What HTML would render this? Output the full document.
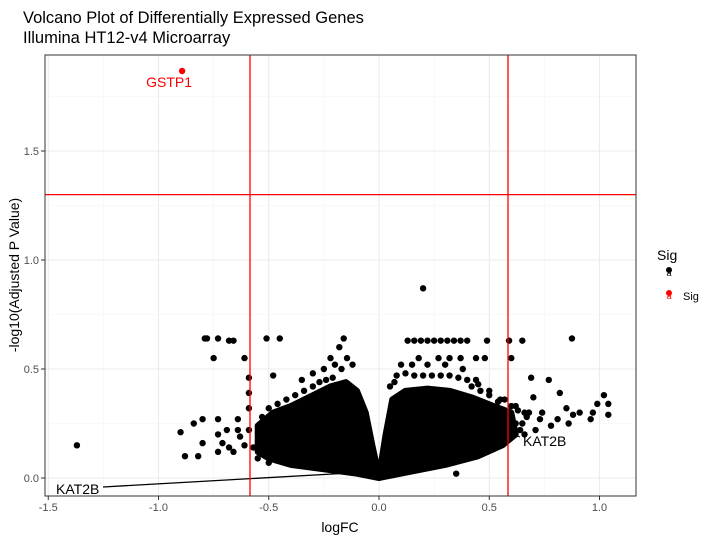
<!DOCTYPE html>
<html><head><meta charset="utf-8"><style>
body{margin:0;background:#fff;font-family:"Liberation Sans",sans-serif;}
svg text{font-family:"Liberation Sans",sans-serif;}
</style></head><body>
<svg id="chart" width="716" height="542">
<text x="23" y="23" font-size="16.5" fill="#000">Volcano Plot of Differentially Expressed Genes</text>
<text x="23" y="43" font-size="16.5" fill="#000">Illumina HT12-v4 Microarray</text>
<g id="grid"></g><g id="marks"></g><g id="axes"></g>
</svg>
<script>
const xTicks=[-1.5,-1.0,-0.5,0.0,0.5,1.0];
const xTickLabels=["-1.5","-1.0","-0.5","0.0","0.5","1.0"];
const yTicks=[0,0.5,1.0,1.5];
const yTickLabels=["0.0","0.5","1.0","1.5"];
const fcCutoff=0.585, pCutoff=1.30;
// envelope of the dense non-significant point cloud (logFC, -log10 adj P)
const blobFC=[-0.55,-0.55,-0.48,-0.40,-0.30,-0.22,-0.15,-0.10,-0.06,-0.03,0,0.03,0.06,0.12,0.22,0.32,0.42,0.52,0.60,0.62,0.56,0.45,0.30,0.15,0.05,0,-0.10,-0.25,-0.40,-0.50];
const blobP=[0.12,0.24,0.30,0.33,0.38,0.42,0.44,0.40,0.30,0.15,0.01,0.20,0.36,0.40,0.41,0.40,0.37,0.33,0.30,0.20,0.15,0.10,0.06,0.03,0.01,0,0.02,0.04,0.06,0.09];
// individually visible points
const ptFC=[-1.37,-0.90,-0.88,-0.82,-0.84,-0.80,-0.73,-0.80,-0.73,-0.73,-0.71,-0.69,-0.68,-0.66,-0.64,-0.64,-0.63,-0.61,-0.59,-0.59,-0.59,-0.55,-0.57,
-0.79,-0.78,-0.73,-0.68,-0.66,-0.51,-0.45,-0.16,-0.18,-0.75,-0.61,-0.145,-0.59,-0.48,-0.17,-0.20,-0.25,-0.30,-0.35,-0.22,-0.12,
0.20,0.13,0.16,0.19,0.22,0.25,0.28,0.31,0.34,0.37,0.40,0.49,0.59,0.65,0.875,0.18,0.27,0.32,0.37,0.44,0.48,0.60,
0.69,0.77,0.82,1.02,0.99,1.04,1.04,0.97,0.96,0.91,0.88,0.85,0.86,0.78,0.81,0.73,0.70,0.74,0.68,0.65,0.35,
0.08,0.12,0.16,0.20,0.24,0.28,0.32,0.36,0.10,0.15,0.22,0.30,0.38,0.44,0.50,0.55,0.62,0.66,
-0.53,-0.50,-0.46,-0.42,-0.38,-0.34,-0.30,-0.27,-0.24,-0.21,-0.52,-0.47,-0.43,-0.36,-0.50,-0.44,-0.33,-0.28,
0.58,0.62,0.64,0.66,0.60,0.63,0.57,0.54,0.50,0.46,0.42,0.55,0.67,0.71,0.05,0.07,0.45,0.40];
const ptP=[0.15,0.21,0.10,0.10,0.25,0.27,0.27,0.16,0.20,0.12,0.16,0.22,0.14,0.12,0.27,0.22,0.19,0.15,0.22,0.32,0.39,0.09,0.14,
0.64,0.64,0.64,0.63,0.63,0.64,0.64,0.64,0.60,0.55,0.55,0.55,0.46,0.47,0.50,0.52,0.50,0.48,0.45,0.55,0.52,
0.87,0.63,0.63,0.63,0.63,0.63,0.63,0.63,0.63,0.63,0.63,0.63,0.63,0.63,0.64,0.55,0.55,0.55,0.55,0.55,0.55,0.55,
0.46,0.45,0.39,0.38,0.34,0.34,0.29,0.30,0.27,0.30,0.29,0.32,0.25,0.24,0.27,0.27,0.37,0.30,0.30,0.25,0.02,
0.47,0.48,0.47,0.47,0.47,0.47,0.47,0.46,0.52,0.52,0.52,0.52,0.50,0.45,0.40,0.36,0.33,0.30,
0.28,0.32,0.34,0.36,0.38,0.40,0.42,0.44,0.45,0.46,0.18,0.22,0.26,0.30,0.07,0.08,0.06,0.05,
0.27,0.25,0.22,0.20,0.33,0.31,0.36,0.35,0.38,0.40,0.42,0.24,0.28,0.22,0.42,0.44,0.43,0.45];
const sigFC=[-0.893], sigP=[1.867], sigLabel=["GSTP1"];
const L=45,R=636,T=55,B=496;
const x=v=>379+v*220.5, y=v=>478-v*218;
const NS="http://www.w3.org/2000/svg";
function mk(parent,tag,attrs){const e=document.createElementNS(NS,tag);for(const k in attrs)e.setAttribute(k,attrs[k]);document.getElementById(parent).appendChild(e);return e;}
let e=mk('grid','rect',{x:L,y:T,width:R-L,height:B-T,fill:'#fff'});


for(let i=0;i<xTicks.length;i++){
 e=mk('grid','line',{x1:x(xTicks[i]),x2:x(xTicks[i]),y1:T,y2:B,stroke:'#ebebeb','stroke-width':1.1});
 
 
 if(i<xTicks.length-1){e=mk('grid','line',{x1:x(xTicks[i]+0.25),x2:x(xTicks[i]+0.25),y1:T,y2:B,stroke:'#f3f3f3','stroke-width':0.6});
 
 }
}
for(let i=0;i<yTicks.length;i++){
 e=mk('grid','line',{x1:L,x2:R,y1:y(yTicks[i]),y2:y(yTicks[i]),stroke:'#ebebeb','stroke-width':1.1});
 
 
 e=mk('grid','line',{x1:L,x2:R,y1:y(yTicks[i]+0.25),y2:y(yTicks[i]+0.25),stroke:'#f3f3f3','stroke-width':0.6});
 
 
}
let d=blobFC.map((v,i)=>(i?'L':'M')+x(v)+','+y(blobP[i])).join(' ')+'Z';
e=mk('marks','path',{d:d,fill:'#000',stroke:'#000','stroke-width':6,'stroke-linejoin':'round'});


for(let i=0;i<ptFC.length;i++){
 e=mk('marks','circle',{cx:x(ptFC[i]),cy:y(ptP[i]),r:3.2,fill:'#000'});
 
 
}
e=mk('marks','line',{x1:103,y1:487,x2:x(-0.18),y2:y(0.02),stroke:'#000','stroke-width':1.3});


e=mk('marks','text',{x:56,y:494,'font-size':14,fill:'#000'});e.textContent='KAT2B';


e=mk('marks','line',{x1:507,y1:432,x2:520,y2:437,stroke:'#000','stroke-width':1});


e=mk('marks','text',{x:523,y:446,'font-size':14,fill:'#000'});e.textContent='KAT2B';


for(let i=0;i<sigFC.length;i++){
 e=mk('marks','circle',{cx:x(sigFC[i]),cy:y(sigP[i]),r:3.2,fill:'#f00'});
 
 
 e=mk('marks','text',{x:x(sigFC[i])-13,y:y(sigP[i])+16,'font-size':14,fill:'#f00','text-anchor':'middle'});e.textContent=sigLabel[i];
 
 
}
[-fcCutoff,fcCutoff].forEach(v=>{e=mk('marks','line',{x1:x(v),x2:x(v),y1:T,y2:B,stroke:'#f00','stroke-width':1.3});
 
 });
e=mk('marks','line',{x1:L,x2:R,y1:y(pCutoff),y2:y(pCutoff),stroke:'#f00','stroke-width':1.3});


e=mk('axes','rect',{x:L,y:T,width:R-L,height:B-T,fill:'none',stroke:'#333','stroke-width':1});


for(let i=0;i<xTicks.length;i++){
 e=mk('axes','line',{x1:x(xTicks[i]),x2:x(xTicks[i]),y1:B,y2:B+4,stroke:'#333'});
 
 
 e=mk('axes','text',{x:x(xTicks[i]),y:B+15,'font-size':11,fill:'#4d4d4d','text-anchor':'middle'});e.textContent=xTickLabels[i];
 
 
}
for(let i=0;i<yTicks.length;i++){
 e=mk('axes','line',{x1:L-4,x2:L,y1:y(yTicks[i]),y2:y(yTicks[i]),stroke:'#333'});
 
 
 e=mk('axes','text',{x:L-6,y:y(yTicks[i])+4,'font-size':11,fill:'#4d4d4d','text-anchor':'end'});e.textContent=yTickLabels[i];
 
 
}
e=mk('axes','text',{x:340,y:532,'font-size':14,fill:'#000','text-anchor':'middle'});e.textContent='logFC';


e=mk('axes','text',{x:0,y:0,'font-size':14,fill:'#000','text-anchor':'middle',transform:'translate(19,275) rotate(-90)'});e.textContent='-log10(Adjusted P Value)';


e=mk('axes','text',{x:657,y:260,'font-size':14,fill:'#000'});e.textContent='Sig';


e=mk('axes','circle',{cx:669,cy:270,r:3,fill:'#000'});


e=mk('axes','text',{x:669,y:276,'font-size':9,fill:'#000','text-anchor':'middle'});e.textContent='a';


e=mk('axes','circle',{cx:669,cy:293,r:3,fill:'#f00'});


e=mk('axes','text',{x:669,y:299,'font-size':9,fill:'#f00','text-anchor':'middle'});e.textContent='a';


e=mk('axes','text',{x:683,y:300,'font-size':11,fill:'#000'});e.textContent='Sig';


</script>
</body></html>
